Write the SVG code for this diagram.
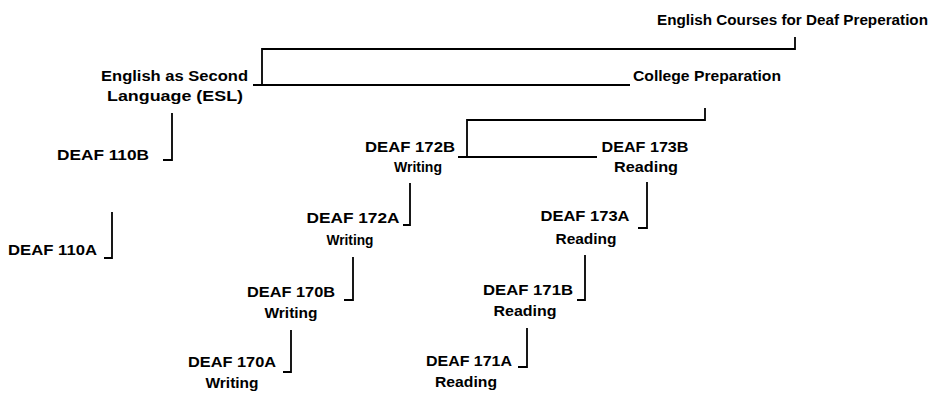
<svg xmlns="http://www.w3.org/2000/svg" width="931" height="394" viewBox="0 0 931 394">
<style>
text{font-family:"Liberation Sans",Arial,sans-serif;font-weight:bold;font-size:14px;fill:#000;text-anchor:middle}
.c path{fill:none;stroke:#000;stroke-width:1.8}
</style>
<rect width="931" height="394" fill="#fff"/>
<g class="c" id="connectors">
<path d="M795,37 V49 H262 V85"/>
<path d="M253,85 H630"/>
<path d="M705,108 V120 H467 V157"/>
<path d="M458,157 H597"/>
<path d="M172,113 V160 H163"/>
<path d="M112,212 V258 H104"/>
<path d="M410,183 V225 H403"/>
<path d="M647,182 V228 H638"/>
<path d="M353,257 V300 H344"/>
<path d="M585,255 V300 H577"/>
<path d="M291,330 V372 H283"/>
<path d="M527,328 V367 H518"/>
</g>
<g id="root"><text x="792.5" y="25" textLength="271" lengthAdjust="spacingAndGlyphs">English Courses for Deaf Preperation</text></g>
<g id="esl"><text x="174.5" y="81" textLength="147" lengthAdjust="spacingAndGlyphs">English as Second</text><text x="175" y="101" textLength="136" lengthAdjust="spacingAndGlyphs">Language (ESL)</text></g>
<g id="college"><text x="707" y="81" textLength="148" lengthAdjust="spacingAndGlyphs">College Preparation</text></g>
<g id="deaf110b"><text x="103" y="160" textLength="92" lengthAdjust="spacingAndGlyphs">DEAF 110B</text></g>
<g id="deaf110a"><text x="52.5" y="255" textLength="89" lengthAdjust="spacingAndGlyphs">DEAF 110A</text></g>
<g id="deaf172b"><text x="410" y="152" textLength="90" lengthAdjust="spacingAndGlyphs">DEAF 172B</text><text x="418" y="172" textLength="48" lengthAdjust="spacingAndGlyphs">Writing</text></g>
<g id="deaf173b"><text x="645" y="152" textLength="87" lengthAdjust="spacingAndGlyphs">DEAF 173B</text><text x="646" y="172" textLength="64" lengthAdjust="spacingAndGlyphs">Reading</text></g>
<g id="deaf172a"><text x="353" y="223" textLength="93" lengthAdjust="spacingAndGlyphs">DEAF 172A</text><text x="350" y="245" textLength="47" lengthAdjust="spacingAndGlyphs">Writing</text></g>
<g id="deaf173a"><text x="585" y="221" textLength="89" lengthAdjust="spacingAndGlyphs">DEAF 173A</text><text x="586" y="244" textLength="61" lengthAdjust="spacingAndGlyphs">Reading</text></g>
<g id="deaf170b"><text x="291" y="297" textLength="88" lengthAdjust="spacingAndGlyphs">DEAF 170B</text><text x="291" y="318" textLength="53" lengthAdjust="spacingAndGlyphs">Writing</text></g>
<g id="deaf171b"><text x="528" y="295" textLength="90" lengthAdjust="spacingAndGlyphs">DEAF 171B</text><text x="525" y="316" textLength="63" lengthAdjust="spacingAndGlyphs">Reading</text></g>
<g id="deaf170a"><text x="232" y="367" textLength="88" lengthAdjust="spacingAndGlyphs">DEAF 170A</text><text x="232" y="388" textLength="53" lengthAdjust="spacingAndGlyphs">Writing</text></g>
<g id="deaf171a"><text x="469" y="366" textLength="86" lengthAdjust="spacingAndGlyphs">DEAF 171A</text><text x="466" y="387" textLength="62" lengthAdjust="spacingAndGlyphs">Reading</text></g>
</svg>
